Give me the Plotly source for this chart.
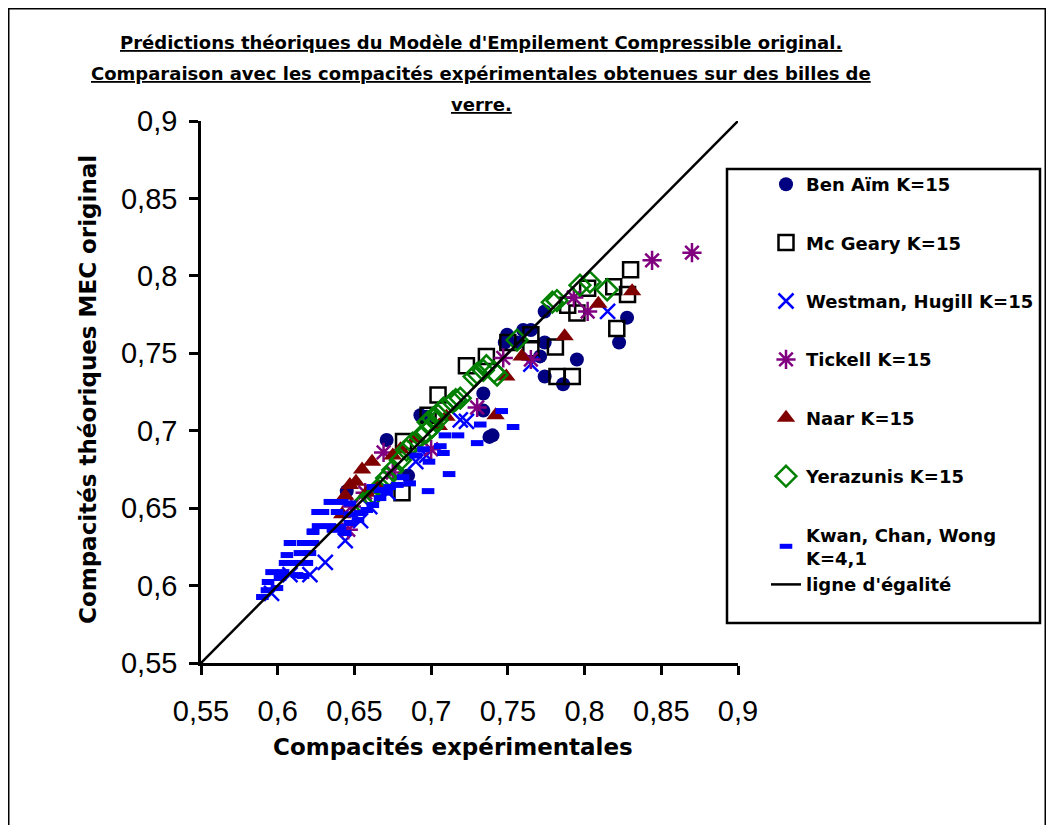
import plotly.graph_objects as go

# ---------------- data ----------------
ben_x = [0.645,0.671,0.685,0.693,0.697,0.734,0.734,0.738,0.740,0.7495,0.748,0.760,0.765,0.771,0.774,0.774,0.774,0.786,0.795,0.8225,0.8277,0.7565]
ben_y = [0.661,0.694,0.671,0.710,0.709,0.724,0.713,0.696,0.697,0.762,0.757,0.765,0.765,0.748,0.757,0.777,0.735,0.730,0.746,0.757,0.773,0.757]

mcg_x = [0.681,0.682,0.698,0.7045,0.723,0.736,0.750,0.765,0.765,0.781,0.782,0.792,0.789,0.795,0.802,0.821,0.819,0.828,0.830]
mcg_y = [0.660,0.693,0.710,0.723,0.742,0.748,0.757,0.762,0.753,0.754,0.735,0.735,0.781,0.776,0.792,0.766,0.793,0.788,0.804]

wes_x = [0.596,0.608,0.621,0.631,0.644,0.654,0.660,0.672,0.690,0.697,0.719,0.723,0.765,0.815]
wes_y = [0.595,0.607,0.607,0.615,0.629,0.642,0.651,0.660,0.680,0.684,0.707,0.706,0.743,0.777]

tic_x = [0.646,0.648,0.657,0.669,0.675,0.700,0.730,0.747,0.765,0.793,0.802,0.844,0.870]
tic_y = [0.636,0.651,0.660,0.686,0.673,0.688,0.715,0.747,0.746,0.786,0.777,0.810,0.815]

naa_x = [0.642,0.644,0.647,0.651,0.655,0.658,0.6615,0.665,0.675,0.680,0.690,0.705,0.710,0.742,0.749,0.759,0.787,0.809,0.831]
naa_y = [0.646,0.658,0.665,0.667,0.675,0.660,0.680,0.664,0.684,0.688,0.695,0.703,0.709,0.710,0.735,0.748,0.761,0.782,0.790]

yer_x = [0.6556,0.6615,0.6667,0.671,0.675,0.680,0.684,0.688,0.693,0.697,0.7006,0.704,0.698,0.701,0.7045,0.708,0.714,0.716,0.719,0.728,0.730,0.734,0.736,0.741,0.743,0.756,0.779,0.782,0.797,0.8035,0.8147]
yer_y = [0.653,0.657,0.6636,0.6694,0.6746,0.681,0.6875,0.692,0.696,0.699,0.7023,0.7068,0.7056,0.708,0.710,0.7146,0.7185,0.720,0.721,0.735,0.737,0.739,0.742,0.738,0.736,0.7585,0.783,0.784,0.794,0.796,0.791]

kwa_x = [0.590,0.593,0.5995,0.5937,0.6015,0.596,0.6035,0.6126,0.6165,0.6048,0.6126,0.619,0.606,0.6145,0.621,0.608,0.6166,0.623,0.623,0.626,
         0.634,0.642,0.647,0.6295,0.6387,0.647,0.6537,0.658,0.662,0.6667,0.671,0.673,0.678,0.6817,0.6263,0.634,0.6406,0.647,0.6523,0.623,0.636,0.6439,0.662,0.6667,
         0.686,0.698,0.6986,0.690,0.695,0.7117,0.706,0.708,0.709,0.7175,0.730,0.732,0.746,0.7534]
kwa_y = [0.5926,0.597,0.5984,0.6023,0.6049,0.6087,0.6087,0.6068,0.6062,0.6146,0.6146,0.6146,0.6197,0.621,0.621,0.6275,0.6275,0.6275,0.635,0.6475,
         0.654,0.654,0.653,0.6475,0.6475,0.646,0.6468,0.6488,0.652,0.6565,0.660,0.6636,0.665,0.670,0.6384,0.6384,0.6378,0.6404,0.6423,0.6346,0.636,0.6339,0.6636,0.6617,
         0.666,0.661,0.680,0.684,0.688,0.672,0.690,0.6856,0.697,0.697,0.692,0.704,0.7127,0.7024]

line_x = [0.55, 0.9]
line_y = [0.55, 0.9]

tick_vals = [0.55, 0.6, 0.65, 0.7, 0.75, 0.8, 0.85, 0.9]
tick_text = ["0,55", "0,6", "0,65", "0,7", "0,75", "0,8", "0,85", "0,9"]

names = ["Ben Aïm K=15", "Mc Geary K=15", "Westman, Hugill K=15", "Tickell K=15",
         "Naar K=15", "Yerazunis K=15", "Kwan, Chan, Wong<br>K=4,1", "ligne d'égalité"]

title_lines = ["Prédictions théoriques du Modèle d'Empilement Compressible original.",
               "Comparaison avec les compacités expérimentales obtenues sur des billes de",
               "verre."]

# ---------------- figure ----------------
OFF = 8  # page body margin
W, H = 1054 - 2 * OFF, 825 - OFF
L, R, T, B = 201 - OFF, 738 - OFF, 121 - OFF, 663 - OFF

def px(x):  # screen pixel -> paper
    return (x - OFF - L) / (R - L)
def py(y):
    return (B - (y - OFF)) / (B - T)

fig = go.Figure()

fig.add_trace(go.Scatter(x=ben_x, y=ben_y, mode="markers", name="<b>" + names[0] + "</b>", legendgroup="g1",
                         marker=dict(symbol="circle", size=14, color="#000080")))
fig.add_trace(go.Scatter(x=mcg_x, y=mcg_y, mode="markers", name="<b>" + names[1] + "</b>", legendgroup="g2",
                         marker=dict(symbol="square-open", size=15, color="black", line=dict(width=2.5))))
fig.add_trace(go.Scatter(x=wes_x, y=wes_y, mode="markers", name="<b>" + names[2] + "</b>", legendgroup="g3",
                         marker=dict(symbol="x-thin-open", size=15, color="#0000FF", line=dict(width=2.5, color="#0000FF"))))
fig.add_trace(go.Scatter(x=tic_x, y=tic_y, mode="markers", name="<b>" + names[3] + "</b>", legendgroup="g4",
                         marker=dict(symbol="asterisk-open", size=16, color="#800080", line=dict(width=2.5, color="#800080"))))
fig.add_trace(go.Scatter(x=naa_x, y=naa_y, mode="markers", name="<b>" + names[4] + "</b>", legendgroup="g5",
                         marker=dict(symbol="triangle-up", size=16, color="#800000")))
fig.add_trace(go.Scatter(x=yer_x, y=yer_y, mode="markers", name="<b>" + names[5] + "</b>", legendgroup="g6",
                         marker=dict(symbol="diamond-open", size=16, color="#008000", line=dict(width=2.5))))
fig.add_trace(go.Scatter(x=kwa_x, y=kwa_y, mode="markers", name="<b>" + names[6] + "</b>", legendgroup="g7",
                         marker=dict(symbol="line-ew-open", size=9, color="#0000FF", line=dict(width=6, color="#0000FF"))))
fig.add_trace(go.Scatter(x=line_x, y=line_y, mode="lines", name="<b>" + names[7] + "</b>", legendgroup="g7",
                         line=dict(color="black", width=2.5)))

tickfont = dict(family="Liberation Sans Narrow, Liberation Sans, Arial", size=29, color="black")
axis_common = dict(range=[0.55, 0.9], tickvals=tick_vals, ticktext=tick_text, showgrid=False,
                   zeroline=False, showline=True, linecolor="black", linewidth=2.5,
                   ticks="outside", ticklen=9, tickwidth=2.5, tickcolor="black", tickfont=tickfont)

fig.update_xaxes(**axis_common, ticklabelstandoff=11)
fig.update_yaxes(**axis_common, ticklabelstandoff=6)

bold = "DejaVu Sans, Arial"
annotations = []
for i, (txt, yy) in enumerate(zip(title_lines, [42, 74, 105])):
    annotations.append(dict(text="<b><u>" + txt + "</u></b>", x=px(481), y=py(yy), xref="paper", yref="paper",
                            xanchor="center", yanchor="middle", showarrow=False,
                            font=dict(family=bold, size=18, color="black")))
annotations += [
    dict(text="<b>Compacités expérimentales</b>", x=px(453), y=py(747), xref="paper", yref="paper",
         xanchor="center", yanchor="middle", showarrow=False, font=dict(family=bold, size=23, color="black")),
    dict(text="<b>Compacités théoriques MEC original</b>", x=px(88), y=py(390), xref="paper", yref="paper",
         xanchor="center", yanchor="middle", textangle=-90, showarrow=False,
         font=dict(family=bold, size=23, color="black")),
]

fig.update_layout(
    width=W, height=H,
    margin=dict(l=L, r=W - R, t=T, b=H - B, autoexpand=False),
    paper_bgcolor="white", plot_bgcolor="white",
    showlegend=True,
    legend=dict(x=px(766), y=py(166), xanchor="left", yanchor="top",
                font=dict(family=bold, size=18, color="black"),
                bgcolor="rgba(0,0,0,0)", borderwidth=0, tracegroupgap=32,
                itemwidth=30, traceorder="grouped"),
    annotations=annotations,
    shapes=[
        dict(type="rect", xref="paper", yref="paper", x0=px(8.75), x1=px(1045.25), y0=py(860), y1=py(8.75),
             line=dict(color="black", width=1.5), layer="below"),
        dict(type="rect", xref="paper", yref="paper", x0=px(727), x1=px(1040), y0=py(623), y1=py(169),
             line=dict(color="black", width=2.5)),
    ],
)

fig.write_html("out.html")
